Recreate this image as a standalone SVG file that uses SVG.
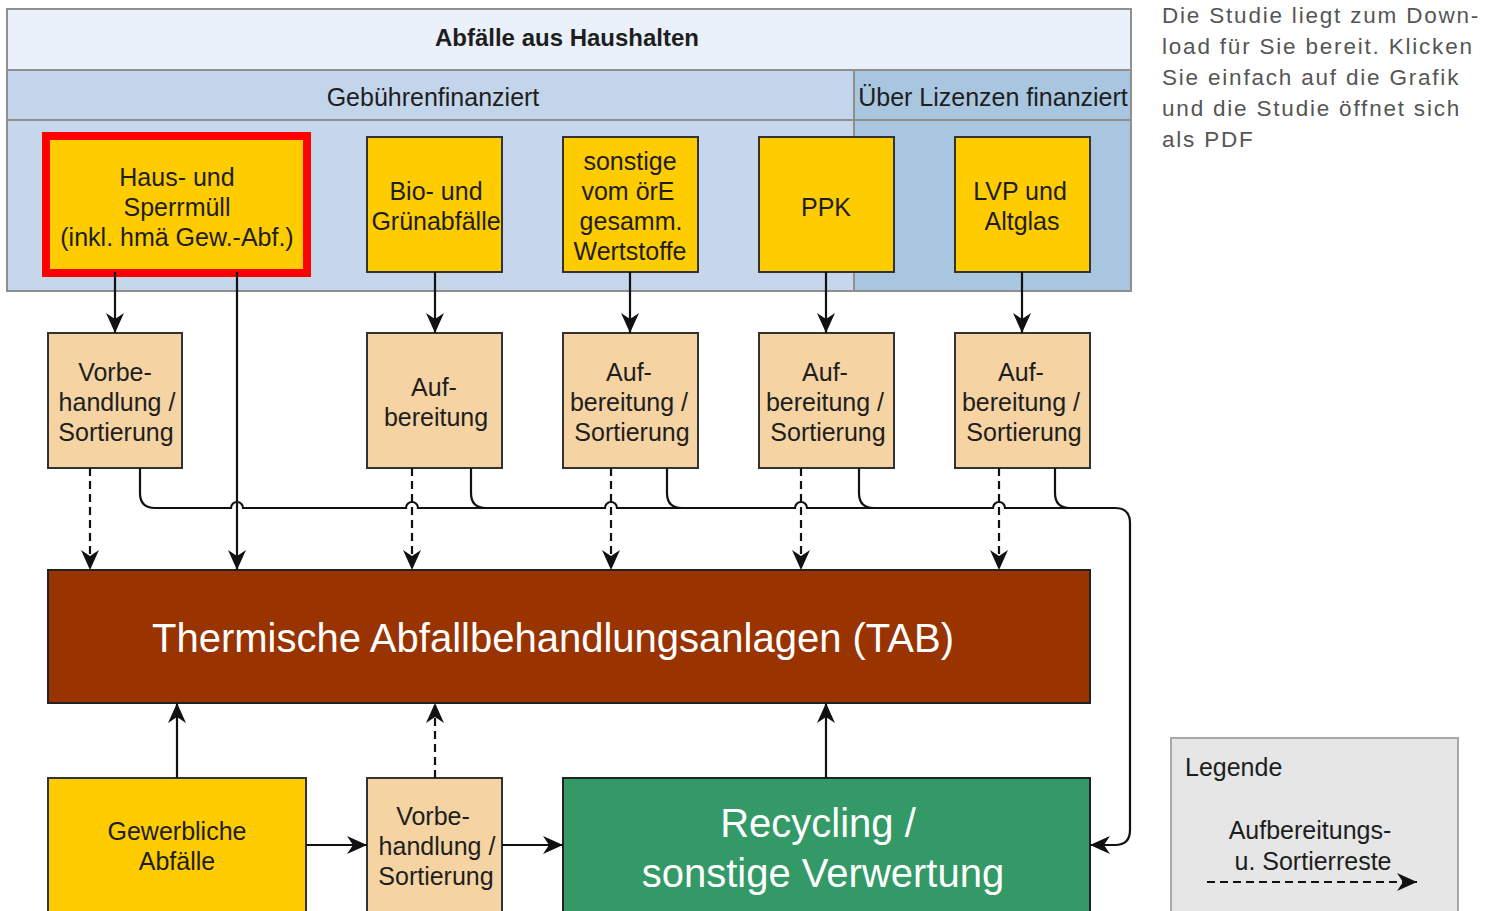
<svg xmlns="http://www.w3.org/2000/svg" width="1489" height="911" viewBox="0 0 1489 911">
<style>
text{font-family:"Liberation Sans",Arial,sans-serif;fill:#1e1e1e;text-anchor:middle}
.t25{font-size:25px}
.box{stroke:#333;stroke-width:2}
.yel{fill:#ffcc00}
.tan{fill:#f5d3a2}
.ln{fill:none;stroke:#111;stroke-width:2.2}
.dash{stroke-dasharray:8 5}
.side{font-size:22.5px;fill:#555;text-anchor:start;letter-spacing:1.8px}
</style>
<defs>
<marker id="ah" viewBox="0 0 20 18" refX="20" refY="9" markerWidth="20" markerHeight="18" markerUnits="userSpaceOnUse" orient="auto">
<path d="M0,0 L20,9 L0,18 L6,9 z" fill="#111"/>
</marker>
</defs>

<g id="container">
<rect x="7" y="9" width="1124" height="282" fill="#c6d7ec" stroke="#8f8f8f" stroke-width="2"/>
<rect x="7" y="9" width="1124" height="61" fill="#eaf1fb" stroke="#8f8f8f" stroke-width="2"/>
<rect x="7" y="70" width="847" height="50" fill="#c3d5ea" stroke="#8f8f8f" stroke-width="2"/>
<rect x="854" y="70" width="277" height="50" fill="#a9c6e1" stroke="#8f8f8f" stroke-width="2"/>
<rect x="854" y="120" width="277" height="171" fill="#a9c6e1" stroke="#8f8f8f" stroke-width="2"/>
<text x="567" y="46" style="font-size:24px;font-weight:bold">Abfälle aus Haushalten</text>
<text class="t25" x="433" y="106">Gebührenfinanziert</text>
<text class="t25" x="993" y="106">Über Lizenzen finanziert</text>
</g>

<g id="haus">
<rect x="46" y="136" width="261" height="137" class="yel" stroke="#ff0000" stroke-width="8"/>
<text class="t25" x="177" y="186">Haus- und</text>
<text class="t25" x="177" y="216">Sperrmüll</text>
<text class="t25" x="177" y="246">(inkl. hmä Gew.-Abf.)</text>
</g>
<g id="bio">
<rect x="367" y="137" width="135" height="135" class="box yel"/>
<text class="t25" x="436" y="200">Bio- und</text>
<text class="t25" x="436" y="230">Grünabfälle</text>
</g>
<g id="sonstige">
<rect x="563" y="137" width="135" height="135" class="box yel"/>
<text class="t25" x="630" y="170">sonstige</text>
<text class="t25" x="628" y="200">vom örE</text>
<text class="t25" x="631" y="230">gesamm.</text>
<text class="t25" x="630" y="260">Wertstoffe</text>
</g>
<g id="ppk">
<rect x="759" y="137" width="135" height="135" class="box yel"/>
<text class="t25" x="826" y="216">PPK</text>
</g>
<g id="lvp">
<rect x="955" y="137" width="135" height="135" class="box yel"/>
<text class="t25" x="1020" y="200">LVP und</text>
<text class="t25" x="1022" y="230">Altglas</text>
</g>

<g id="vorbe1">
<rect x="48" y="333" width="134" height="135" class="box tan"/>
<text class="t25" x="115" y="381">Vorbe-</text>
<text class="t25" x="117" y="411">handlung /</text>
<text class="t25" x="116" y="441">Sortierung</text>
</g>
<g id="auf1">
<rect x="367" y="333" width="135" height="135" class="box tan"/>
<text class="t25" x="434" y="396">Auf-</text>
<text class="t25" x="436" y="426">bereitung</text>
</g>
<g id="auf2">
<rect x="563" y="333" width="135" height="135" class="box tan"/>
<text class="t25" x="629" y="381">Auf-</text>
<text class="t25" x="629" y="411">bereitung /</text>
<text class="t25" x="632" y="441">Sortierung</text>
</g>
<g id="auf3">
<rect x="759" y="333" width="135" height="135" class="box tan"/>
<text class="t25" x="825" y="381">Auf-</text>
<text class="t25" x="825" y="411">bereitung /</text>
<text class="t25" x="828" y="441">Sortierung</text>
</g>
<g id="auf4">
<rect x="955" y="333" width="135" height="135" class="box tan"/>
<text class="t25" x="1021" y="381">Auf-</text>
<text class="t25" x="1021" y="411">bereitung /</text>
<text class="t25" x="1024" y="441">Sortierung</text>
</g>

<g id="tab">
<rect x="48" y="570" width="1042" height="133" fill="#993300" stroke="#222" stroke-width="2"/>
<text x="553" y="652" style="font-size:40px;fill:#ffffff">Thermische Abfallbehandlungsanlagen (TAB)</text>
</g>

<g id="gewerbe">
<rect x="48" y="778" width="258" height="140" class="box yel"/>
<text class="t25" x="177" y="840">Gewerbliche</text>
<text class="t25" x="177" y="870">Abfälle</text>
</g>
<g id="vorbe2">
<rect x="367" y="778" width="135" height="140" class="box tan"/>
<text class="t25" x="433" y="825">Vorbe-</text>
<text class="t25" x="437" y="855">handlung /</text>
<text class="t25" x="436" y="885">Sortierung</text>
</g>
<g id="recycling">
<rect x="563" y="778" width="527" height="140" fill="#339966" stroke="#222" stroke-width="2"/>
<text x="818" y="837" style="font-size:40px;fill:#ffffff">Recycling /</text>
<text x="823" y="887" style="font-size:40px;fill:#ffffff">sonstige Verwertung</text>
</g>

<g id="connectors">
<path class="ln" d="M115,272 V333" marker-end="url(#ah)"/>
<path class="ln" d="M237,272 V570" marker-end="url(#ah)"/>
<path class="ln" d="M435,272 V333" marker-end="url(#ah)"/>
<path class="ln" d="M630,272 V333" marker-end="url(#ah)"/>
<path class="ln" d="M826,272 V333" marker-end="url(#ah)"/>
<path class="ln" d="M1022,272 V333" marker-end="url(#ah)"/>
<path class="ln dash" d="M90,468 V570" marker-end="url(#ah)"/>
<path class="ln dash" d="M412,468 V570" marker-end="url(#ah)"/>
<path class="ln dash" d="M611,468 V570" marker-end="url(#ah)"/>
<path class="ln dash" d="M801,468 V570" marker-end="url(#ah)"/>
<path class="ln dash" d="M999,468 V570" marker-end="url(#ah)"/>
<path class="ln" d="M140,468 V493 Q140,508 155,508 H231 A6,6 0 0 1 243,508 H406 A6,6 0 0 1 418,508 H605 A6,6 0 0 1 617,508 H795 A6,6 0 0 1 807,508 H993 A6,6 0 0 1 1005,508 H1115 Q1130,508 1130,523 V830 Q1130,845 1115,845 H1090" marker-end="url(#ah)"/>
<path class="ln" d="M471,468 V493 Q471,508 486,508"/>
<path class="ln" d="M667,468 V493 Q667,508 682,508"/>
<path class="ln" d="M859,468 V493 Q859,508 874,508"/>
<path class="ln" d="M1055,468 V493 Q1055,508 1070,508"/>
<path class="ln" d="M177,778 V703" marker-end="url(#ah)"/>
<path class="ln dash" d="M435,778 V703" marker-end="url(#ah)"/>
<path class="ln" d="M826,778 V703" marker-end="url(#ah)"/>
<path class="ln" d="M306,845 H367" marker-end="url(#ah)"/>
<path class="ln" d="M502,845 H563" marker-end="url(#ah)"/>
</g>

<g id="legend">
<rect x="1171" y="738" width="287" height="180" fill="#e6e6e6" stroke="#a8a8a8" stroke-width="2"/>
<text class="t25" x="1185" y="776" style="text-anchor:start">Legende</text>
<text class="t25" x="1310" y="839">Aufbereitungs-</text>
<text class="t25" x="1313" y="870">u. Sortierreste</text>
<path class="ln dash" d="M1207,882 H1417" marker-end="url(#ah)"/>
</g>

<g id="note">
<text class="side" x="1162" y="23">Die Studie liegt zum Down-</text>
<text class="side" x="1162" y="54">load für Sie bereit. Klicken</text>
<text class="side" x="1162" y="85">Sie einfach auf die Grafik</text>
<text class="side" x="1162" y="116">und die Studie öffnet sich</text>
<text class="side" x="1162" y="147">als PDF</text>
</g>
</svg>
